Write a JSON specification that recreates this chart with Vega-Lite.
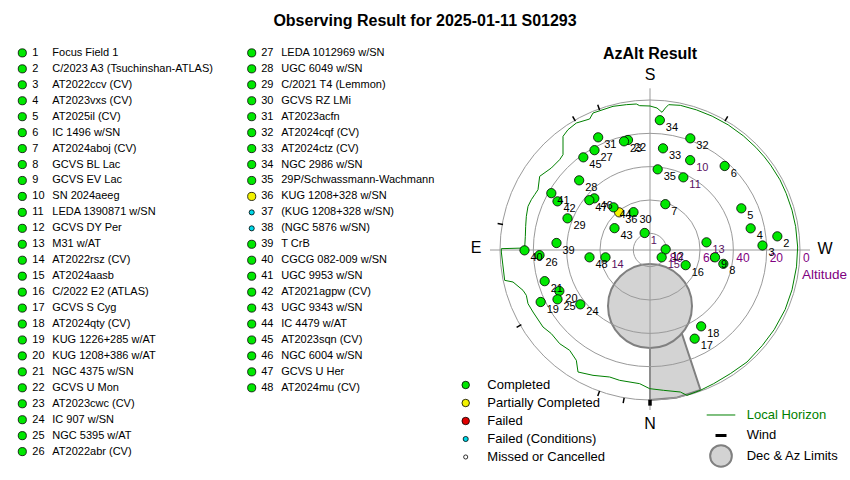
{
  "$schema": "https://vega.github.io/schema/vega-lite/v6.json",
  "width": 850,
  "height": 480,
  "autosize": "none",
  "padding": 0,
  "background": "white",
  "config": {"view": {"stroke": null}, "axis": {"disable": true}, "font": "Liberation Sans"},
  "title": {"text": "Observing Result for 2025-01-11 S01293", "fontSize": 16, "fontWeight": "bold", "font": "Liberation Sans", "anchor": "middle", "frame": "group", "orient": "top", "offset": -24, "dy": 18, "baseline": "alphabetic", "color": "black"},
  "datasets": {
    "objects": [
      {"num": 1, "name": "Focus Field 1", "status": "Completed", "x": -3.2, "y": 10.2},
      {"num": 2, "name": "C/2023 A3 (Tsuchinshan-ATLAS)", "status": "Completed", "x": 76.4, "y": 8.2},
      {"num": 3, "name": "AT2022ccv (CV)", "status": "Completed", "x": 67.5, "y": 2.7},
      {"num": 4, "name": "AT2023vxs (CV)", "status": "Completed", "x": 60.4, "y": 13},
      {"num": 5, "name": "AT2025il (CV)", "status": "Completed", "x": 54.8, "y": 25},
      {"num": 6, "name": "IC 1496 w/SN", "status": "Completed", "x": 44.8, "y": 50.4},
      {"num": 7, "name": "AT2024aboj (CV)", "status": "Completed", "x": 9.2, "y": 27.5},
      {"num": 8, "name": "GCVS BL Lac", "status": "Completed", "x": 44, "y": -8.3},
      {"num": 9, "name": "GCVS EV Lac", "status": "Completed", "x": 39, "y": -4.4},
      {"num": 10, "name": "SN 2024aeeg", "status": "Completed", "x": 24.1, "y": 53.9},
      {"num": 11, "name": "LEDA 1390871 w/SN", "status": "Completed", "x": 20, "y": 43.6},
      {"num": 12, "name": "GCVS DY Per", "status": "Completed", "x": 9.4, "y": 0.4},
      {"num": 13, "name": "M31 w/AT", "status": "Completed", "x": 33.9, "y": 4.6},
      {"num": 14, "name": "AT2022rsz (CV)", "status": "Completed", "x": -26.7, "y": -4.4},
      {"num": 15, "name": "AT2024aasb", "status": "Completed", "x": 7, "y": -4.4},
      {"num": 16, "name": "C/2022 E2 (ATLAS)", "status": "Completed", "x": 21.4, "y": -9.1},
      {"num": 17, "name": "GCVS S Cyg", "status": "Completed", "x": 26.8, "y": -53.2},
      {"num": 18, "name": "AT2024qty (CV)", "status": "Completed", "x": 30.7, "y": -45.8},
      {"num": 19, "name": "KUG 1226+285 w/AT", "status": "Completed", "x": -65.6, "y": -31.2},
      {"num": 20, "name": "KUG 1208+386 w/AT", "status": "Completed", "x": -54.4, "y": -24.6},
      {"num": 21, "name": "NGC 4375 w/SN", "status": "Completed", "x": -63.2, "y": -18.7},
      {"num": 22, "name": "GCVS U Mon", "status": "Completed", "x": -13.2, "y": 66},
      {"num": 23, "name": "AT2023cwc (CV)", "status": "Completed", "x": -15.6, "y": 65.2},
      {"num": 24, "name": "IC 907 w/SN", "status": "Completed", "x": -41.8, "y": -32.6},
      {"num": 25, "name": "NGC 5395 w/AT", "status": "Completed", "x": -55.5, "y": -29.6},
      {"num": 26, "name": "AT2022abr (CV)", "status": "Completed", "x": -66.3, "y": -3.1},
      {"num": 27, "name": "LEDA 1012969 w/SN", "status": "Completed", "x": -33.3, "y": 59.9},
      {"num": 28, "name": "UGC 6049 w/SN", "status": "Completed", "x": -42.5, "y": 41.8},
      {"num": 29, "name": "C/2021 T4 (Lemmon)", "status": "Completed", "x": -49.5, "y": 19},
      {"num": 30, "name": "GCVS RZ LMi", "status": "Completed", "x": -9.9, "y": 22.7},
      {"num": 31, "name": "AT2023acfn", "status": "Completed", "x": -31.1, "y": 67.6},
      {"num": 32, "name": "AT2024cqf (CV)", "status": "Completed", "x": 24.2, "y": 67},
      {"num": 33, "name": "AT2024ctz (CV)", "status": "Completed", "x": 7.8, "y": 61},
      {"num": 34, "name": "NGC 2986 w/SN", "status": "Completed", "x": 5.9, "y": 77.9},
      {"num": 35, "name": "29P/Schwassmann-Wachmann", "status": "Completed", "x": 4.6, "y": 48.4},
      {"num": 36, "name": "KUG 1208+328 w/SN", "status": "Partially Completed", "x": -18.5, "y": 22.6},
      {"num": 37, "name": "\u00a0\u00a0(KUG 1208+328 w/SN)", "status": "Failed (Conditions)", "x": null, "y": null},
      {"num": 38, "name": "\u00a0\u00a0(NGC 5876 w/SN)", "status": "Failed (Conditions)", "x": null, "y": null},
      {"num": 39, "name": "T CrB", "status": "Completed", "x": -56.1, "y": 4.2},
      {"num": 40, "name": "CGCG 082-009 w/SN", "status": "Completed", "x": -75.3, "y": -0.2},
      {"num": 41, "name": "UGC 9953 w/SN", "status": "Completed", "x": -59.2, "y": 34.1},
      {"num": 42, "name": "AT2021agpw (CV)", "status": "Completed", "x": -55.5, "y": 29.2},
      {"num": 43, "name": "UGC 9343 w/SN", "status": "Completed", "x": -21.3, "y": 13.1},
      {"num": 44, "name": "IC 4479 w/AT", "status": "Completed", "x": -21.9, "y": 25.6},
      {"num": 45, "name": "AT2023sqn (CV)", "status": "Completed", "x": -40, "y": 55.6},
      {"num": 46, "name": "NGC 6004 w/SN", "status": "Completed", "x": -33.4, "y": 31},
      {"num": 47, "name": "GCVS U Her", "status": "Completed", "x": -36.4, "y": 29.9},
      {"num": 48, "name": "AT2024mu (CV)", "status": "Completed", "x": -36.3, "y": -4.4}
    ],
    "rings": [
      {"alt": 0, "zd": 90}, {"alt": 20, "zd": 70}, {"alt": 40, "zd": 50}, {"alt": 60, "zd": 30}, {"alt": 80, "zd": 10}
    ],
    "horizon": [
      {"i": 1, "x": 0, "y": 86.4}, {"i": 2, "x": -6.2, "y": 86.6}, {"i": 3, "x": -8.2, "y": 87.6}, {"i": 4, "x": -14.2, "y": 87.2},
      {"i": 5, "x": -22.2, "y": 86.2}, {"i": 6, "x": -28.2, "y": 84.2}, {"i": 7, "x": -34.2, "y": 82.2}, {"i": 8, "x": -36.2, "y": 78.6},
      {"i": 9, "x": -44.2, "y": 76.2}, {"i": 10, "x": -49.2, "y": 72.2}, {"i": 11, "x": -52.2, "y": 68.2}, {"i": 12, "x": -52.2, "y": 57.2},
      {"i": 13, "x": -54.2, "y": 54.2}, {"i": 14, "x": -59.2, "y": 49.2}, {"i": 15, "x": -66.2, "y": 44.2}, {"i": 16, "x": -67.2, "y": 36.2},
      {"i": 17, "x": -69.2, "y": 33.2}, {"i": 18, "x": -71.2, "y": 30.2}, {"i": 19, "x": -73.2, "y": 26.2}, {"i": 20, "x": -74.2, "y": 20.2},
      {"i": 21, "x": -74.6, "y": 14.2}, {"i": 22, "x": -74.8, "y": 8.2}, {"i": 23, "x": -75.2, "y": 1.2}, {"i": 24, "x": -89.2, "y": 0.8},
      {"i": 25, "x": -89.2, "y": -1.2}, {"i": 26, "x": -87.2, "y": -18.2}, {"i": 27, "x": -82.2, "y": -19.2}, {"i": 28, "x": -76.2, "y": -24.2},
      {"i": 29, "x": -74.2, "y": -27.2}, {"i": 30, "x": -73.2, "y": -32.2}, {"i": 31, "x": -70.2, "y": -37.2}, {"i": 32, "x": -64.2, "y": -46.2},
      {"i": 33, "x": -59.2, "y": -50.2}, {"i": 34, "x": -54.2, "y": -56.2}, {"i": 35, "x": -48.2, "y": -60.2}, {"i": 36, "x": -44.2, "y": -66.2},
      {"i": 37, "x": -43.2, "y": -73.2}, {"i": 38, "x": -34.2, "y": -75.2}, {"i": 39, "x": -24.2, "y": -76.2}, {"i": 40, "x": -18.2, "y": -78.2},
      {"i": 41, "x": -6.2, "y": -80.2}, {"i": 42, "x": -0.2, "y": -83.2}, {"i": 43, "x": 8.2, "y": -84.2}, {"i": 44, "x": 18.2, "y": -85.2},
      {"i": 45, "x": 22.2, "y": -87.2}, {"i": 46, "x": 30.2, "y": -84.2}, {"i": 47, "x": 38.2, "y": -80.2}, {"i": 48, "x": 48.2, "y": -74.2},
      {"i": 49, "x": 58.2, "y": -67.2}, {"i": 50, "x": 67.3, "y": -57.4}, {"i": 51, "x": 74.5, "y": -47.8}, {"i": 52, "x": 81.1, "y": -35.7},
      {"i": 53, "x": 85.2, "y": -23.9}, {"i": 54, "x": 87.9, "y": -10.1}, {"i": 55, "x": 88.6, "y": 1.8}, {"i": 56, "x": 87.4, "y": 14.0},
      {"i": 57, "x": 85.2, "y": 23.9}, {"i": 58, "x": 81.7, "y": 34.0}, {"i": 59, "x": 78.0, "y": 42.1}, {"i": 60, "x": 72.4, "y": 50.9},
      {"i": 61, "x": 68.6, "y": 55.9}, {"i": 62, "x": 63.5, "y": 61.6}, {"i": 63, "x": 56.0, "y": 68.5}, {"i": 64, "x": 46.9, "y": 75.1},
      {"i": 65, "x": 37.3, "y": 80.3}, {"i": 66, "x": 27.8, "y": 84.1}, {"i": 67, "x": 18.2, "y": 86.8}, {"i": 68, "x": 11.2, "y": 87.2},
      {"i": 69, "x": 9.2, "y": 85.2}, {"i": 70, "x": 7.2, "y": 82.6}, {"i": 71, "x": 4.2, "y": 85.2}, {"i": 72, "x": 0, "y": 86.4}
    ],
    "wedge": [
      {"i": 1, "x": 0, "y": -42}, {"i": 2, "x": 18, "y": -42}, {"i": 3, "x": 19.2, "y": -50.4}, {"i": 4, "x": 30.3, "y": -84},
      {"i": 5, "x": 15.6, "y": -88.7}, {"i": 6, "x": 0, "y": -90}, {"i": 7, "x": 0, "y": -42}
    ],
    "wind": [
      {"x": -45.6, "y": 78.8, "angle": -30}, {"x": -30.8, "y": 85.6, "angle": -19.8}, {"x": -89.8, "y": 15.6, "angle": -80.1},
      {"x": 45.8, "y": 78.8, "angle": 30.2}, {"x": -78.6, "y": -45.6, "angle": 59.9}, {"x": -30.8, "y": -86.1, "angle": 19.7},
      {"x": -15.8, "y": -90.3, "angle": 9.9}
    ],
    "cardinals": [
      {"label": "S", "x": 0, "y": 105}, {"label": "N", "x": 0, "y": -104.4}, {"label": "E", "x": -104.4, "y": 1.2}, {"label": "W", "x": 105, "y": 0.6}
    ],
    "legend1": [
      {"status": "Completed", "i": 1}, {"status": "Partially Completed", "i": 2}, {"status": "Failed", "i": 3},
      {"status": "Failed (Conditions)", "i": 4}, {"status": "Missed or Cancelled", "i": 5}
    ],
    "legend2": [
      {"label": "Local Horizon", "i": 1}, {"label": "Wind", "i": 2}, {"label": "Dec & Az Limits", "i": 3}
    ]
  },
  "resolve": {"scale": {"x": "independent", "y": "independent", "size": "independent"}},
  "layer": [
    {
      "layer": [
        {
          "data": {"name": "wedge"},
          "mark": {"type": "line", "fill": "#d3d3d3", "stroke": "#808080", "strokeWidth": 2, "strokeJoin": "round"},
          "encoding": {
            "x": {"field": "x", "type": "quantitative", "scale": {"domain": [-390, 120], "nice": false, "zero": false}},
            "y": {"field": "y", "type": "quantitative", "scale": {"domain": [-138, 150], "nice": false, "zero": false}},
            "order": {"field": "i"}
          }
        },
        {
          "data": {"values": [{}]},
          "mark": {"type": "point", "shape": "circle", "filled": true, "fill": "#d3d3d3", "stroke": "#808080", "strokeWidth": 2, "opacity": 1, "size": 7056},
          "encoding": {
            "x": {"datum": 0, "type": "quantitative", "scale": {"domain": [-390, 120], "nice": false, "zero": false}},
            "y": {"datum": -33.6, "type": "quantitative", "scale": {"domain": [-138, 150], "nice": false, "zero": false}}
          }
        },
        {
          "data": {"name": "rings"},
          "mark": {"type": "point", "shape": "circle", "filled": false, "stroke": "#9a9a9a", "strokeWidth": 1, "opacity": 1},
          "encoding": {
            "x": {"datum": 0, "type": "quantitative", "scale": {"domain": [-390, 120], "nice": false, "zero": false}},
            "y": {"datum": 0, "type": "quantitative", "scale": {"domain": [-138, 150], "nice": false, "zero": false}},
            "size": {"field": "zd", "type": "quantitative", "scale": {"type": "pow", "exponent": 2, "domain": [0, 90], "range": [0, 90000]}, "legend": null}
          }
        },
        {
          "data": {"values": [{}]},
          "mark": {"type": "rule", "stroke": "#9a9a9a", "strokeWidth": 1},
          "encoding": {
            "x": {"datum": -96, "type": "quantitative", "scale": {"domain": [-390, 120], "nice": false, "zero": false}},
            "x2": {"datum": 96},
            "y": {"datum": 0, "type": "quantitative", "scale": {"domain": [-138, 150], "nice": false, "zero": false}}
          }
        },
        {
          "data": {"values": [{}]},
          "mark": {"type": "rule", "stroke": "#9a9a9a", "strokeWidth": 1},
          "encoding": {
            "x": {"datum": 0, "type": "quantitative", "scale": {"domain": [-390, 120], "nice": false, "zero": false}},
            "y": {"datum": -96, "type": "quantitative", "scale": {"domain": [-138, 150], "nice": false, "zero": false}},
            "y2": {"datum": 97}
          }
        },
        {
          "data": {"name": "horizon"},
          "mark": {"type": "line", "stroke": "#008000", "strokeWidth": 1},
          "encoding": {
            "x": {"field": "x", "type": "quantitative", "scale": {"domain": [-390, 120], "nice": false, "zero": false}},
            "y": {"field": "y", "type": "quantitative", "scale": {"domain": [-138, 150], "nice": false, "zero": false}},
            "order": {"field": "i"}
          }
        },
        {
          "data": {"name": "wind"},
          "mark": {"type": "point", "shape": "M0,-1L0,1", "filled": false, "stroke": "black", "strokeWidth": 1.5, "opacity": 1, "size": 30},
          "encoding": {
            "x": {"field": "x", "type": "quantitative", "scale": {"domain": [-390, 120], "nice": false, "zero": false}},
            "y": {"field": "y", "type": "quantitative", "scale": {"domain": [-138, 150], "nice": false, "zero": false}},
            "angle": {"field": "angle", "type": "quantitative", "scale": null}
          }
        },
        {
          "data": {"values": [{}]},
          "mark": {"type": "point", "shape": "M0,-1L0,1", "filled": false, "stroke": "black", "strokeWidth": 3.5, "opacity": 1, "size": 36},
          "encoding": {
            "x": {"datum": 0, "type": "quantitative", "scale": {"domain": [-390, 120], "nice": false, "zero": false}},
            "y": {"datum": -91.6, "type": "quantitative", "scale": {"domain": [-138, 150], "nice": false, "zero": false}}
          }
        },
        {
          "data": {"name": "rings"},
          "mark": {"type": "text", "align": "left", "baseline": "middle", "dx": 3, "dy": 7.5, "fontSize": 12, "fill": "#800080"},
          "encoding": {
            "x": {"field": "zd", "type": "quantitative", "scale": {"domain": [-390, 120], "nice": false, "zero": false}},
            "y": {"datum": 0, "type": "quantitative", "scale": {"domain": [-138, 150], "nice": false, "zero": false}},
            "text": {"field": "alt"}
          }
        },
        {
          "data": {"values": [{}]},
          "mark": {"type": "text", "align": "left", "baseline": "middle", "dx": 2, "dy": 25, "fontSize": 13.5, "fill": "#800080", "text": "Altitude"},
          "encoding": {
            "x": {"datum": 90, "type": "quantitative", "scale": {"domain": [-390, 120], "nice": false, "zero": false}},
            "y": {"datum": 0, "type": "quantitative", "scale": {"domain": [-138, 150], "nice": false, "zero": false}}
          }
        },
        {
          "data": {"name": "objects"},
          "transform": [{"filter": "isValid(datum.x)"}],
          "mark": {"type": "point", "shape": "circle", "filled": true, "stroke": "black", "strokeWidth": 0.8, "opacity": 1, "size": 86},
          "encoding": {
            "x": {"field": "x", "type": "quantitative", "scale": {"domain": [-390, 120], "nice": false, "zero": false}},
            "y": {"field": "y", "type": "quantitative", "scale": {"domain": [-138, 150], "nice": false, "zero": false}},
            "fill": {"field": "status", "type": "nominal", "scale": {"domain": ["Completed", "Partially Completed", "Failed", "Failed (Conditions)", "Missed or Cancelled"], "range": ["#00e800", "#f2f200", "#e00000", "#00d8e8", "#ffffff"]}, "legend": null}
          }
        },
        {
          "data": {"name": "objects"},
          "transform": [{"filter": "isValid(datum.x)"}],
          "mark": {"type": "text", "align": "left", "baseline": "middle", "dx": 6, "dy": 7.5, "fontSize": 11},
          "encoding": {
            "x": {"field": "x", "type": "quantitative", "scale": {"domain": [-390, 120], "nice": false, "zero": false}},
            "y": {"field": "y", "type": "quantitative", "scale": {"domain": [-138, 150], "nice": false, "zero": false}},
            "text": {"field": "num"},
            "fill": {"condition": {"test": "indexof([1, 10, 11, 13, 14, 15], datum.num) >= 0", "value": "#5a1060"}, "value": "black"}
          }
        },
        {
          "data": {"name": "cardinals"},
          "mark": {"type": "text", "align": "center", "baseline": "middle", "fontSize": 16, "fill": "black"},
          "encoding": {
            "x": {"field": "x", "type": "quantitative", "scale": {"domain": [-390, 120], "nice": false, "zero": false}},
            "y": {"field": "y", "type": "quantitative", "scale": {"domain": [-138, 150], "nice": false, "zero": false}},
            "text": {"field": "label"}
          }
        },
        {
          "data": {"values": [{}]},
          "mark": {"type": "text", "align": "center", "baseline": "middle", "fontSize": 16, "fontWeight": "bold", "fill": "black", "text": "AzAlt Result"},
          "encoding": {
            "x": {"datum": 0, "type": "quantitative", "scale": {"domain": [-390, 120], "nice": false, "zero": false}},
            "y": {"datum": 117.6, "type": "quantitative", "scale": {"domain": [-138, 150], "nice": false, "zero": false}}
          }
        }
      ]
    },
    {
      "data": {"name": "objects"},
      "transform": [{"filter": "datum.num <= 26"}],
      "encoding": {
        "x": {"datum": 1, "type": "quantitative", "scale": {"domain": [0.9028, 4.608], "nice": false, "zero": false}},
        "y": {"field": "num", "type": "quantitative", "scale": {"domain": [-2.317, 27.78], "reverse": true, "nice": false, "zero": false}}
      },
      "layer": [
        {
          "mark": {"type": "point", "shape": "circle", "filled": true, "stroke": "black", "strokeWidth": 0.8, "opacity": 1},
          "encoding": {
            "fill": {"field": "status", "type": "nominal", "scale": {"domain": ["Completed", "Partially Completed", "Failed", "Failed (Conditions)", "Missed or Cancelled"], "range": ["#00e800", "#f2f200", "#e00000", "#00d8e8", "#ffffff"]}, "legend": null},
            "size": {"condition": {"test": "datum.status == 'Failed (Conditions)'", "value": 26}, "value": 66}
          }
        },
        {
          "mark": {"type": "text", "align": "left", "baseline": "middle", "dx": 10, "fontSize": 11, "fill": "black"},
          "encoding": {"text": {"field": "num"}}
        },
        {
          "mark": {"type": "text", "align": "left", "baseline": "middle", "dx": 30, "fontSize": 11, "fill": "black"},
          "encoding": {"text": {"field": "name"}}
        }
      ]
    },
    {
      "data": {"name": "objects"},
      "transform": [{"filter": "datum.num >= 27"}],
      "encoding": {
        "x": {"datum": 2, "type": "quantitative", "scale": {"domain": [0.9028, 4.608], "nice": false, "zero": false}},
        "y": {"field": "num", "type": "quantitative", "scale": {"domain": [23.683, 53.78], "reverse": true, "nice": false, "zero": false}}
      },
      "layer": [
        {
          "mark": {"type": "point", "shape": "circle", "filled": true, "stroke": "black", "strokeWidth": 0.8, "opacity": 1},
          "encoding": {
            "fill": {"field": "status", "type": "nominal", "scale": {"domain": ["Completed", "Partially Completed", "Failed", "Failed (Conditions)", "Missed or Cancelled"], "range": ["#00e800", "#f2f200", "#e00000", "#00d8e8", "#ffffff"]}, "legend": null},
            "size": {"condition": {"test": "datum.status == 'Failed (Conditions)'", "value": 26}, "value": 66}
          }
        },
        {
          "mark": {"type": "text", "align": "left", "baseline": "middle", "dx": 9.5, "fontSize": 11, "fill": "black"},
          "encoding": {"text": {"field": "num"}}
        },
        {
          "mark": {"type": "text", "align": "left", "baseline": "middle", "dx": 29.5, "fontSize": 11, "fill": "black"},
          "encoding": {"text": {"field": "name"}}
        }
      ]
    },
    {
      "data": {"name": "legend1"},
      "encoding": {
        "x": {"datum": 0, "type": "quantitative", "scale": {"domain": [-465.7, 384.3], "nice": false, "zero": false}},
        "y": {"field": "i", "type": "quantitative", "scale": {"domain": [-20.389, 6.278], "reverse": true, "nice": false, "zero": false}}
      },
      "layer": [
        {
          "mark": {"type": "point", "shape": "circle", "filled": true, "stroke": "black", "strokeWidth": 0.8, "opacity": 1},
          "encoding": {
            "fill": {"field": "status", "type": "nominal", "scale": {"domain": ["Completed", "Partially Completed", "Failed", "Failed (Conditions)", "Missed or Cancelled"], "range": ["#00e800", "#f2f200", "#e00000", "#00d8e8", "#ffffff"]}, "legend": null},
            "size": {"condition": [{"test": "datum.status == 'Failed (Conditions)'", "value": 26}, {"test": "datum.status == 'Missed or Cancelled'", "value": 17}], "value": 56}
          }
        },
        {
          "mark": {"type": "text", "align": "left", "baseline": "middle", "dx": 21.6, "fontSize": 13, "fill": "black"},
          "encoding": {"text": {"field": "status"}}
        }
      ]
    },
    {
      "data": {"name": "legend2"},
      "encoding": {
        "x": {"datum": 0, "type": "quantitative", "scale": {"domain": [-721, 129], "nice": false, "zero": false}},
        "y": {"field": "i", "type": "quantitative", "scale": {"domain": [-19.244, 4.171], "reverse": true, "nice": false, "zero": false}}
      },
      "layer": [
        {
          "transform": [{"filter": "datum.label == 'Local Horizon'"}],
          "mark": {"type": "rule", "stroke": "#008000", "strokeWidth": 1},
          "encoding": {"x": {"datum": -14.3, "type": "quantitative", "scale": {"domain": [-721, 129], "nice": false, "zero": false}}, "x2": {"datum": 14.3}}
        },
        {
          "transform": [{"filter": "datum.label == 'Wind'"}],
          "mark": {"type": "rule", "stroke": "black", "strokeWidth": 3},
          "encoding": {"x": {"datum": -5.5, "type": "quantitative", "scale": {"domain": [-721, 129], "nice": false, "zero": false}}, "x2": {"datum": 5.5}}
        },
        {
          "transform": [{"filter": "datum.label == 'Dec & Az Limits'"}],
          "mark": {"type": "point", "shape": "circle", "filled": true, "fill": "#d3d3d3", "stroke": "#808080", "strokeWidth": 2, "opacity": 1, "size": 470}
        },
        {
          "mark": {"type": "text", "align": "left", "baseline": "middle", "dx": 25.7, "fontSize": 13},
          "encoding": {
            "text": {"field": "label"},
            "fill": {"condition": {"test": "datum.label == 'Local Horizon'", "value": "#008000"}, "value": "black"}
          }
        }
      ]
    }
  ]
}
